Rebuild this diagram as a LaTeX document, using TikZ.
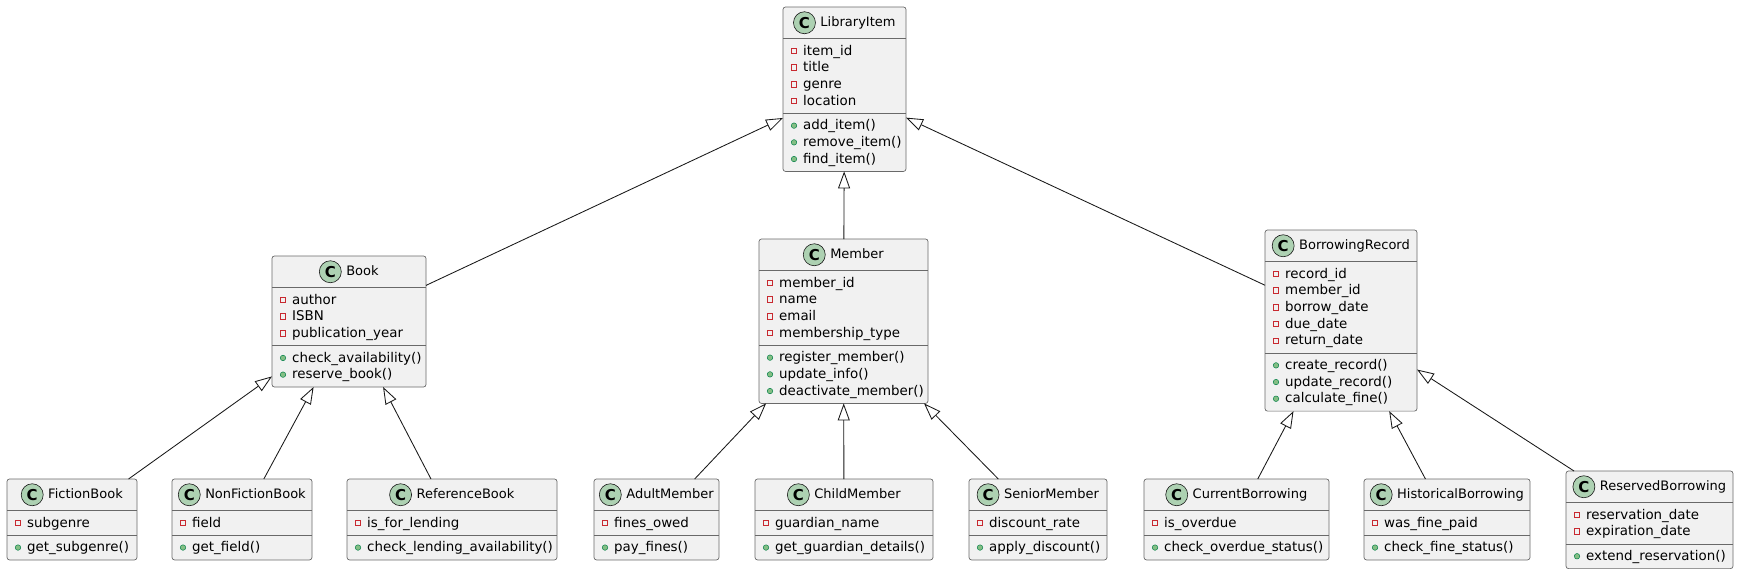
\documentclass[tikz,border=0pt]{standalone}
\usepackage{fontspec}
\setmainfont{DejaVu Sans}
\usetikzlibrary{arrows.meta,calc}
\definecolor{boxfill}{HTML}{F1F1F1}
\definecolor{boxline}{HTML}{181818}
\definecolor{iconfill}{HTML}{ADD1B2}
\definecolor{privred}{HTML}{C82930}
\definecolor{pubfill}{HTML}{84BE84}
\definecolor{publine}{HTML}{038048}
\tikzset{
 classbox/.style={draw=boxline!65, fill=boxfill, line width=0.7pt, rounded corners=2.5pt, inner sep=0pt, outer sep=0pt},
 sepline/.style={draw=boxline!65, line width=0.7pt},
 titletext/.style={inner sep=0pt, outer sep=0pt, anchor=mid, font=\fontsize{13}{15}\selectfont},
 classicon/.style={circle, draw=boxline, line width=0.6pt, fill=iconfill, minimum size=22pt, inner sep=0pt, font=\fontsize{15}{15}\selectfont\bfseries},
 membertext/.style={inner sep=0pt, anchor=mid west, font=\fontsize{13.4}{15}\selectfont},
 privmark/.style={draw=privred, line width=0.7pt, minimum size=5.5pt, inner sep=0pt},
 pubmark/.style={circle, draw=publine, fill=pubfill, line width=0.5pt, minimum size=5.5pt, inner sep=0pt},
 extends/.style={draw=boxline, line width=0.85pt, -{Triangle[length=17pt, width=12pt, fill=white, line width=0.85pt]}},
}
% #1 name, #2 left x, #3 top y, #4 width, #5 title, #6 n attrs, #7 attrs, #8 n methods, #9 methods
\newcommand{\umlclass}[9]{%
 \pgfmathsetmacro{\hA}{16.7*#6+8}%
 \pgfmathsetmacro{\hM}{16.7*#8+8}%
 \pgfmathsetmacro{\hT}{31.5+\hA+\hM}%
 \node[classbox, minimum width=#4pt, minimum height=\hT pt, anchor=north west] (#1) at (#2,#3) {};
 \draw[sepline] ($(#1.north west)+(0,31.5)$) -- ($(#1.north east)+(0,31.5)$);
 \draw[sepline] ($(#1.north west)+(0,31.5+\hA)$) -- ($(#1.north east)+(0,31.5+\hA)$);
 \node[titletext] (#1-t) at ($(#1.north)+(13.5,17)$) {#5};
 \node[classicon] (#1-c) at ($(#1-t.west |- #1.north)+(-16,15.75)$) {C};
 \foreach \a [count=\i] in {#7} {
   \pgfmathsetmacro{\yy}{43.85+16.7*(\i-1)}
   \node[privmark] at ($(#1.north west)+(11,\yy)$) {};
   \node[membertext] at ($(#1.north west)+(20,\yy+1.5)$) {\a};
 }
 \foreach \m [count=\i] in {#9} {
   \pgfmathsetmacro{\yy}{31.5+\hA+12.35+16.7*(\i-1)}
   \node[pubmark] at ($(#1.north west)+(11,\yy)$) {};
   \node[membertext] at ($(#1.north west)+(20,\yy+1.5)$) {\m};
 }
}
\begin{document}
\begin{tikzpicture}[x=1pt,y=-1pt]
\fill[white] (0,0) rectangle (1739,573);
\useasboundingbox (0,0) rectangle (1739,573);
\umlclass{item}{783}{7}{123}{LibraryItem}{4}{item\_id,title,genre,location}{3}{add\_item(),remove\_item(),find\_item()}
\umlclass{book}{272}{256}{154}{Book}{3}{author,ISBN,publication\_year}{2}{check\_availability(),reserve\_book()}
\umlclass{member}{759}{239}{169}{Member}{4}{member\_id,name,email,membership\_type}{3}{register\_member(),update\_info(),deactivate\_member()}
\umlclass{record}{1265}{230}{152}{BorrowingRecord}{5}{record\_id,member\_id,borrow\_date,due\_date,return\_date}{3}{create\_record(),update\_record(),calculate\_fine()}
\umlclass{fiction}{7}{479}{130}{FictionBook}{1}{subgenre}{1}{get\_subgenre()}
\umlclass{nonfiction}{172}{479}{140}{NonFictionBook}{1}{field}{1}{get\_field()}
\umlclass{reference}{347}{479}{210}{ReferenceBook}{1}{is\_for\_lending}{1}{check\_lending\_availability()}
\umlclass{adult}{594}{479}{125}{AdultMember}{1}{fines\_owed}{1}{pay\_fines()}
\umlclass{child}{755}{479}{178}{ChildMember}{1}{guardian\_name}{1}{get\_guardian\_details()}
\umlclass{senior}{969}{479}{138}{SeniorMember}{1}{discount\_rate}{1}{apply\_discount()}
\umlclass{current}{1144}{479}{185}{CurrentBorrowing}{1}{is\_overdue}{1}{check\_overdue\_status()}
\umlclass{historical}{1364}{479}{166}{HistoricalBorrowing}{1}{was\_fine\_paid}{1}{check\_fine\_status()}
\umlclass{reserved}{1566}{471}{167}{ReservedBorrowing}{2}{reservation\_date,expiration\_date}{1}{extend\_reservation()}
\draw[extends] (book) -- (item);
\draw[extends] (member) -- (item);
\draw[extends] (record) -- (item);
\draw[extends] (fiction) -- (book);
\draw[extends] (nonfiction) -- (book);
\draw[extends] (reference) -- (book);
\draw[extends] (adult) -- (member);
\draw[extends] (child) -- (member);
\draw[extends] (senior) -- (member);
\draw[extends] (current) -- (record);
\draw[extends] (historical) -- (record);
\draw[extends] (reserved) -- (record);
\end{tikzpicture}
\end{document}
